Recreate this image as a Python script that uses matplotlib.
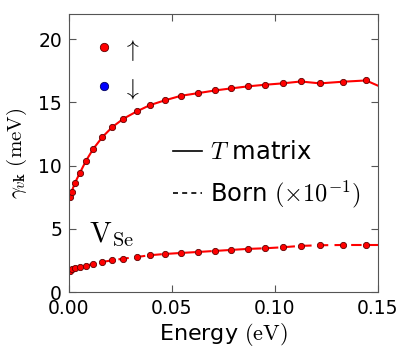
import numpy as np
import matplotlib
matplotlib.use("Agg")
import matplotlib.pyplot as plt
from matplotlib.lines import Line2D

plt.rcParams['mathtext.fontset'] = 'cm'
plt.rcParams['font.family'] = ['DejaVu Sans']

# energies (eV) and scattering rates (meV)
energy = [0.0005, 0.0013, 0.0029, 0.0053, 0.0083, 0.0118, 0.0162, 0.0210,
          0.0264, 0.0329, 0.0393, 0.0466, 0.0544, 0.0628, 0.0709, 0.0786,
          0.0867, 0.0951, 0.1037, 0.1125, 0.1218, 0.1329, 0.1442, 0.1560]
gamma_t = [7.55, 7.95, 8.64, 9.43, 10.40, 11.33, 12.26, 13.05,
           13.71, 14.29, 14.79, 15.17, 15.53, 15.74, 15.95, 16.11,
           16.27, 16.40, 16.51, 16.66, 16.51, 16.64, 16.74, 15.90]
gamma_born = [1.69, 1.80, 1.88, 1.96, 2.08, 2.24, 2.38, 2.51,
              2.64, 2.77, 2.91, 3.01, 3.09, 3.17, 3.25, 3.33,
              3.41, 3.46, 3.54, 3.65, 3.70, 3.72, 3.72, 3.72]

xticks = [0.00, 0.05, 0.10, 0.15]
yticks = [0, 5, 10, 15, 20]

fig = plt.figure(figsize=(4.07, 3.49), dpi=100)
ax = fig.add_axes([0.1695, 0.1633, 0.7592, 0.7966])

ax.plot(energy, gamma_t, '-', color='red', lw=1.5, marker='o', ms=4.5,
        mfc='red', mec='#600000', mew=0.6)
ax.plot(energy, gamma_born, '--', color='red', lw=1.5, marker='o', ms=4.5,
        mfc='red', mec='#600000', mew=0.6, dashes=(5, 3))

ax.set_xlim(0, 0.15)
ax.set_ylim(0, 22)
ax.set_xticks(xticks)
ax.set_xticklabels(['%.2f' % t for t in xticks])
ax.set_yticks(yticks)
ax.tick_params(direction='in', top=True, right=True, labelsize=13.5, length=5,
               pad=5, color='#555555')
for s in ax.spines.values():
    s.set_color('#555555')

ax.set_xlabel(r'Energy $(\mathrm{eV})$', fontsize=16, labelpad=2)
ax.set_ylabel(r'$\gamma_{v\mathbf{k}}\ (\mathrm{meV})$', fontsize=15, labelpad=7)

spin = [Line2D([], [], ls='none', marker='o', ms=6, color='red', mec='#600000', mew=0.6),
        Line2D([], [], ls='none', marker='o', ms=6, color='blue', mec='#000060', mew=0.6)]
leg1 = ax.legend(spin, [r'$\uparrow$', r'$\downarrow$'], loc='upper left',
                 bbox_to_anchor=(0.01, 0.995), frameon=False, fontsize=17,
                 handlelength=0.9, handletextpad=0.3, labelspacing=0.55)
ax.add_artist(leg1)

kinds = [Line2D([], [], color='black', lw=1.2),
         Line2D([], [], color='black', lw=1.2, ls='--', dashes=(3, 2.5))]
ax.legend(kinds, [r'$T$ matrix', r'Born $(\times10^{-1})$'], loc='upper left',
          bbox_to_anchor=(0.265, 0.625), frameon=False, fontsize=17.5,
          handlelength=1.2, handletextpad=0.35, labelspacing=0.6)

ax.text(0.065, 0.18, r'$\mathrm{V}_{\mathrm{Se}}$', transform=ax.transAxes,
        fontsize=21)

fig.savefig('out.png', dpi=100)
